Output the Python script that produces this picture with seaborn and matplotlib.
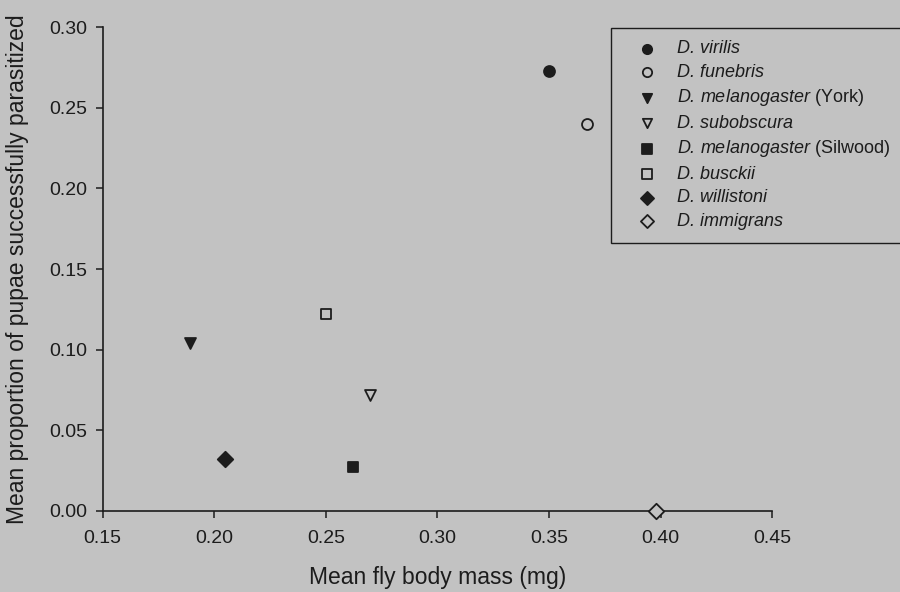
import numpy as np
import pandas as pd
import matplotlib
matplotlib.use("Agg")
import matplotlib.pyplot as plt
import seaborn as sns

# data
species = ["D. virilis", "D. funebris", "D. melanogaster", "D. subobscura",
           "D. melanogaster", "D. busckii", "D. willistoni", "D. immigrans"]
strain = ["", "", "York", "", "Silwood", "", "", ""]
body_mass = [0.350, 0.367, 0.189, 0.270, 0.262, 0.250, 0.205, 0.398]
parasitized = [0.273, 0.240, 0.104, 0.072, 0.027, 0.122, 0.032, 0.000]
markers = ["o", "o", "v", "v", "s", "s", "D", "D"]
filled = [True, False, True, False, True, False, True, False]

bg = "#c2c2c2"
ink = "#1c1c1c"

sns.set_theme(style="ticks")
plt.rcParams["font.family"] = ["Liberation Sans", "DejaVu Sans"]
plt.rcParams["mathtext.fontset"] = "custom"
plt.rcParams["mathtext.it"] = "Liberation Sans:italic"
plt.rcParams["mathtext.rm"] = "Liberation Sans"

fig = plt.figure(figsize=(9, 5.92), dpi=100, facecolor=bg)
ax = fig.add_axes([0.114, 0.137, 0.744, 0.817], facecolor=bg)

df = pd.DataFrame({"species": species, "strain": strain, "mass": body_mass,
                   "prop": parasitized, "marker": markers, "filled": filled})

for _, r in df.iterrows():
    # legend text is italic; strain name in upright mathtext
    lab = r["species"]
    if r["strain"]:
        lab += r" $\mathrm{(" + r["strain"] + ")}$"
    sns.scatterplot(x=[r["mass"]], y=[r["prop"]], marker=r["marker"], s=62,
                    color=ink, edgecolor=ink, linewidth=1.3,
                    ax=ax, legend=False, clip_on=False, zorder=5)
    coll = ax.collections[-1]
    coll.set_label(lab)
    if not r["filled"]:
        coll.set_facecolor(bg)

ax.set_xlim(0.15, 0.45)
ax.set_ylim(0.0, 0.30)
ax.set_xticks(np.arange(0.15, 0.451, 0.05))
ax.set_yticks(np.arange(0.0, 0.301, 0.05))
ax.xaxis.set_major_formatter(matplotlib.ticker.FormatStrFormatter("%.2f"))
ax.yaxis.set_major_formatter(matplotlib.ticker.FormatStrFormatter("%.2f"))
sns.despine(ax=ax)
for s in ["left", "bottom"]:
    ax.spines[s].set_color(ink)
    ax.spines[s].set_linewidth(1.2)
ax.tick_params(direction="out", length=5, width=1.1, color=ink,
               labelsize=14, labelcolor=ink)
ax.tick_params(axis="x", pad=9)
ax.tick_params(axis="y", pad=6)

ax.set_xlabel("Mean fly body mass (mg)", fontsize=16.5, color=ink, va="center")
ax.set_ylabel("Mean proportion of pupae successfully parasitized",
              fontsize=16.5, color=ink, va="center")
ax.xaxis.set_label_coords(0.5, -0.138)
ax.yaxis.set_label_coords(-0.127, 0.5)

handles = ax.collections[:len(species)]
labels = [h.get_label() for h in handles]
leg = ax.legend(handles, labels, loc="upper left", bbox_to_anchor=(0.679, 0.953),
                bbox_transform=fig.transFigure, frameon=True,
                prop={"family": "Liberation Sans", "style": "italic", "size": 13},
                fancybox=False, edgecolor=ink, facecolor=bg, framealpha=1,
                markerscale=0.85, labelspacing=0.36, handletextpad=0.37,
                borderpad=0.7, borderaxespad=0, handlelength=2.6)
leg.get_frame().set_linewidth(1.0)
for t in leg.get_texts():
    t.set_color(ink)

fig.savefig("out.png", dpi=100, facecolor=bg)
